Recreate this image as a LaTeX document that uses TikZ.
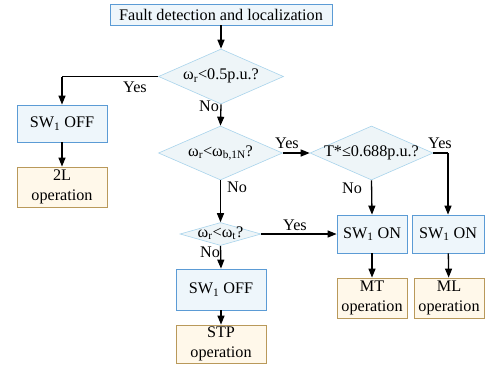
\documentclass[tikz,border=0pt]{standalone}
\usepackage{fontspec}
\setmainfont{Liberation Serif}
\usetikzlibrary{shapes.geometric,arrows.meta}
\definecolor{bfill}{HTML}{EEF6FB}
\definecolor{bdraw}{HTML}{5B9BD5}
\definecolor{dfill}{HTML}{EEF5F8}
\definecolor{ddraw}{HTML}{A9D4EC}
\definecolor{ofill}{HTML}{FFF8EA}
\definecolor{odraw}{HTML}{B9995A}
\begin{document}
\begin{tikzpicture}[x=1pt,y=-1pt,
  every node/.style={font=\rmfamily\fontsize{16.2}{19.5}\selectfont, inner sep=0pt},
  bbox/.style={rectangle, draw=bdraw, fill=bfill, line width=0.8pt, align=center},
  obox/.style={rectangle, draw=odraw, fill=ofill, line width=0.8pt, align=center},
  dbox/.style={diamond, draw=ddraw, fill=dfill, line width=0.6pt, aspect=2.3, text height=6pt, text depth=0pt},
  conn/.style={line width=1.3pt, -{Triangle[length=9pt,width=7pt]}},
  lab/.style={}]
\useasboundingbox (0,0) rectangle (486,368);
\fill[white] (0,0) rectangle (486,368);

\node[bbox, minimum width=222pt, minimum height=21pt] (top) at (221,14.5) {Fault detection and localization};
\node[dbox, minimum width=125pt, minimum height=55pt] (d1) at (221,76.5) {ω\textsubscript{r}<0.5p.u.?};
\node[bbox, minimum width=90pt, minimum height=37pt] (swa) at (62,123.5) {SW\textsubscript{1} OFF};
\node[obox, minimum width=90pt, minimum height=40pt] (l2) at (62,187) {2L\\operation};
\node[dbox, minimum width=124pt, minimum height=54pt] (d2) at (220.5,153) {ω\textsubscript{r}<ω\textsubscript{b,1N}?};
\node[dbox, minimum width=123pt, minimum height=54pt] (d3) at (371.5,153) {T*≤0.688p.u.?};
\node[dbox, minimum width=81pt, minimum height=23pt, aspect=3.5] (d4) at (220.5,234) {ω\textsubscript{r}<ω\textsubscript{t}?};
\node[bbox, minimum width=90pt, minimum height=41pt] (swd) at (221,289.5) {SW\textsubscript{1} OFF};
\node[obox, minimum width=90pt, minimum height=38pt] (stp) at (221,344) {STP\\operation};
\node[bbox, minimum width=70pt, minimum height=38pt] (swb) at (372,234) {SW\textsubscript{1} ON};
\node[bbox, minimum width=72pt, minimum height=38pt] (swc) at (448,234) {SW\textsubscript{1} ON};
\node[obox, minimum width=70pt, minimum height=40pt] (mt) at (372,298) {MT\\operation};
\node[obox, minimum width=70pt, minimum height=40pt] (ml) at (449,298) {ML\\operation};

\coordinate (c1) at (62,76.5);
\coordinate (c2) at (448,153);

\draw[conn] (top) -- (d1);
\draw[line width=1.3pt] (d1.west) -- (c1);
\draw[conn] (c1) -- (swa);
\draw[conn] (swa) -- (l2);
\draw[conn] (d1.south) -- (d2.north);
\draw[conn] (d2.east) -- (d3.west);
\draw[line width=1.3pt] (d3.east) -- (c2);
\draw[conn] (c2) -- (swc);
\draw[conn] (d3.south) -- (swb.north);
\draw[conn] (d2.south) -- (d4.north);
\draw[conn] (d4.east) -- (swb.west);
\draw[conn] (d4.south) -- (swd.north);
\draw[conn] (swd) -- (stp);
\draw[conn] (swb) -- (mt);
\draw[conn] (swc) -- (ml);

\node[lab] (y1) at (135,87) {Yes};
\node[lab] (n1) at (209,106) {No};
\node[lab] (y2) at (287,143) {Yes};
\node[lab] (y3) at (440,143) {Yes};
\node[lab] (n2) at (237,187) {No};
\node[lab] (n3) at (352,188) {No};
\node[lab] (y4) at (295,225) {Yes};
\node[lab] (n4) at (210,252) {No};
\end{tikzpicture}
\end{document}
